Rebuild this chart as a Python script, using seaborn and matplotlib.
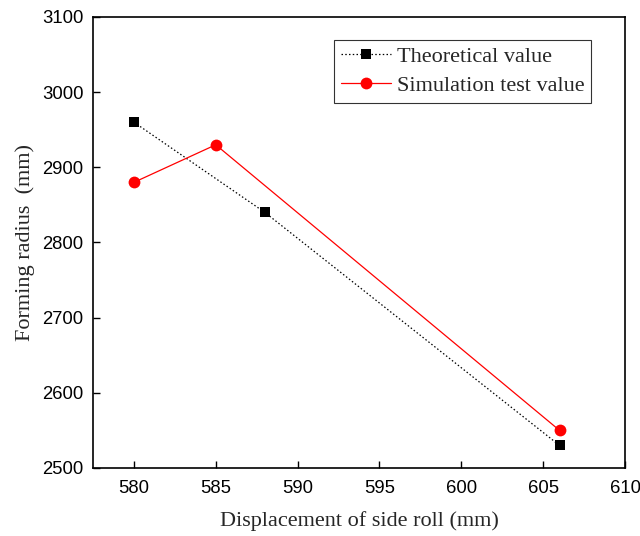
import matplotlib
matplotlib.use("Agg")
import matplotlib.pyplot as plt
import seaborn as sns
import pandas as pd

theo_x = [580, 588, 606]
theo_y = [2960, 2840, 2530]
sim_x = [580, 585, 606]
sim_y = [2880, 2930, 2550]
x_ticks = [580, 585, 590, 595, 600, 605, 610]
y_ticks = [2500, 2600, 2700, 2800, 2900, 3000, 3100]

sns.set_style("ticks")
plt.rcParams['font.family'] = ['Liberation Sans', 'DejaVu Sans']

fig = plt.figure(figsize=(6.4, 5.36), dpi=100)
ax = fig.add_axes([0.1453, 0.1269, 0.9766 - 0.1453, 0.9683 - 0.1269])

df_t = pd.DataFrame({"x": theo_x, "y": theo_y})
df_s = pd.DataFrame({"x": sim_x, "y": sim_y})

sns.lineplot(data=df_t, x="x", y="y", ax=ax, color="black", linestyle=(0, (1.2, 1.8)),
             linewidth=0.9, marker="s", markersize=7.5, markeredgewidth=0,
             label="Theoretical value")
sns.lineplot(data=df_s, x="x", y="y", ax=ax, color="#ff0000", linestyle="-",
             linewidth=0.9, marker="o", markersize=8.5, markeredgewidth=0,
             label="Simulation test value")

ax.set_xlim(577.5, 610)
ax.set_ylim(2500, 3100)
ax.set_xticks(x_ticks)
ax.set_yticks(y_ticks)
ax.tick_params(direction="in", length=5, width=1, labelsize=13.3, colors="black")
ax.tick_params(axis="x", pad=9)
ax.tick_params(axis="y", pad=7)
for s in ax.spines.values():
    s.set_linewidth(1.2)
    s.set_color("black")

serif = ['Liberation Serif', 'DejaVu Serif']
ax.set_xlabel("Displacement of side roll (mm)", fontsize=16, family=serif, labelpad=10)
ax.set_ylabel("Forming radius  (mm)", fontsize=16, family=serif, labelpad=5)

leg = ax.legend(loc="upper right", bbox_to_anchor=(0.936, 0.949), prop={"family": serif, "size": 16},
                frameon=True, fancybox=False, edgecolor="black", handlelength=2.25,
                handletextpad=0.25, borderpad=0.3, labelspacing=0.38, borderaxespad=0)
leg.get_frame().set_linewidth(0.8)

fig.savefig("out.png", dpi=100)
